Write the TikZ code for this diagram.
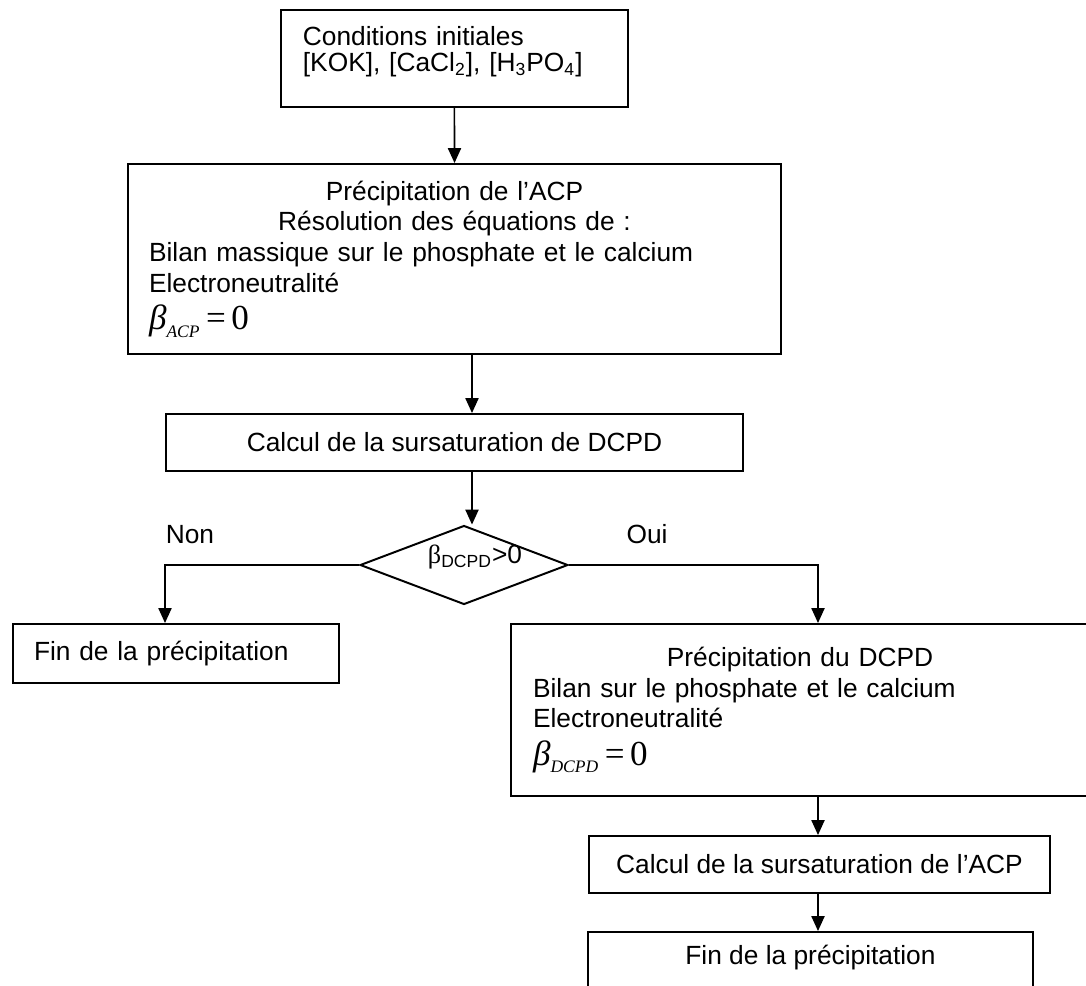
\documentclass[tikz,border=0pt]{standalone}
\usepackage{fontspec}
\setmainfont{Liberation Sans}
\newfontfamily\timesfont{Liberation Serif}
\usetikzlibrary{shapes.geometric, arrows.meta}

\newcommand{\betazero}[1]{{\timesfont\fontsize{16}{16}\selectfont\textit{β}\raisebox{-3.5pt}{\fontsize{8}{8}\selectfont\textit{#1}}\kern3pt=\kern2.5pt0}}

\begin{document}
\begin{tikzpicture}[x=0.456pt, y=-0.456pt,
		box/.style = {draw, line width=0.9pt, inner ysep=0pt, anchor=north west, font=\fontsize{12}{14}\selectfont},
		arr/.style = {-{Triangle[length=6.8pt, width=6pt]}, line width=0.7pt},
		lbl/.style = {font=\fontsize{12}{14}\selectfont, anchor=base}]
		\useasboundingbox (0,0) rectangle (1086,985);
		\clip (0,0) rectangle (1086,985);
		% Boxes
		\node[box, minimum width=158.2pt, minimum height=44.2pt, text width=138.2pt, inner xsep=10pt, align=left] (init) at (280,9) {Conditions initiales\\[-2pt]{}[KOK], [CaCl\textsubscript{2}], [H\textsubscript{3}PO\textsubscript{4}]\rule[-8.5pt]{0pt}{0pt}};
		\node[box, minimum width=297.8pt, minimum height=86.6pt, text width=278.6pt, inner xsep=9.6pt, align=left] (acp) at (127,163) {\makebox[\linewidth]{Précipitation de l’ACP}\\
			\makebox[\linewidth]{Résolution des équations de :}\\
			Bilan massique sur le phosphate et le calcium\\
			Electroneutralité\\[3pt]
			\betazero{ACP}};
		\node[box, minimum width=263.1pt, minimum height=26pt] (calcD) at (165,413) {Calcul de la sursaturation de DCPD};
		% Test
		\node[draw, diamond, aspect=2.6, minimum width=94.8pt, minimum height=36pt, inner sep=0pt, line width=0.9pt, font=\fontsize{12}{14}\selectfont] (dec) at (464,565) {\raisebox{0.5pt}[0pt][0pt]{\hspace{10pt}{\timesfont β}\textsubscript{DCPD}>0}};
		\node[lbl] (non) at (190,543) {Non};
		\node[lbl] (oui) at (647,543) {Oui};
		% Branches
		\node[box, minimum width=148.7pt, minimum height=26.9pt, text width=129.5pt, inner xsep=9.6pt, align=left] (finL) at (12,623) {Fin de la précipitation};
		\node[box, minimum width=263.6pt, minimum height=78.4pt, text width=243.5pt, inner xsep=10pt, align=left] (dcpd) at (510,623) {\makebox[\linewidth]{Précipitation du DCPD}\\
			Bilan sur le phosphate et le calcium\\
			Electroneutralité\\[3pt]
			\betazero{DCPD}};
		\node[box, minimum width=210.2pt, minimum height=26pt] (calcA) at (588,835) {Calcul de la sursaturation de l’ACP};
		\node[box, minimum width=202.9pt, text height=14.8pt, text depth=18pt] (finR) at (587,931) {Fin de la précipitation};
		% Arrows
		\coordinate (ax) at (472,0);
		\coordinate (brL) at (165,0);
		\coordinate (brR) at (818,0);
		\draw[arr] (init.south) -- (acp.north);
		\draw[arr] (acp.south -| ax) -- (calcD.north -| ax);
		\draw[arr] (calcD.south -| ax) -- (dec.north -| ax);
		\draw[arr] (dec.west) -| (brL |- finL.north);
		\draw[arr] (dec.east) -| (brR |- dcpd.north);
		\draw[arr] (dcpd.south -| brR) -- (calcA.north -| brR);
		\draw[arr] (calcA.south -| brR) -- (finR.north -| brR);
	\end{tikzpicture}
\end{document}
